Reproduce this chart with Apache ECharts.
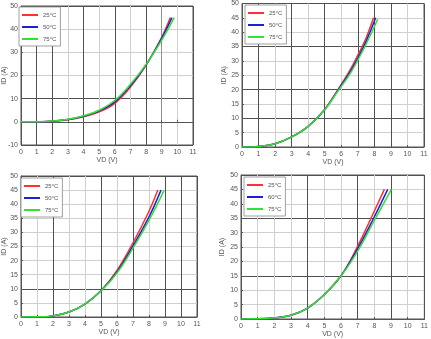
<!DOCTYPE html>
<html><head><meta charset="utf-8">
<script src="https://cdn.jsdelivr.net/npm/echarts@6/dist/echarts.min.js"></script>
<style>html,body{margin:0;padding:0;background:#fff}#c{width:431px;height:339px}</style>
</head><body><div id="c"></div>
<script>
// Tick labels
const xTicks = [0,1,2,3,4,5,6,7,8,9,10,11];
const yTicksA = [-10,0,10,20,30,40,50];
const yTicksB = [0,5,10,15,20,25,30,35,40,45,50];
// Legend names
const names1 = ['25°C','50°C','75°C'];
const names4 = ['25°C','60°C','75°C'];
// Panel 1 (VD, ID)
const p1_25 = [[0,0],[1,0],[2,0.3],[3,0.9],[4,2.2],[5,4.3],[6,8.0],[7,15.0],[8,24.5],[9,36.5],[9.55,45]];
const p1_50 = [[0,0],[1,0],[2,0.3],[3,1.0],[4,2.4],[5,4.7],[6,8.6],[7,15.6],[8,24.6],[9,36],[9.65,45]];
const p1_75 = [[0,0],[1,0.05],[2,0.35],[3,1.1],[4,2.6],[5,5.0],[6,9.2],[7,16.2],[8,24.8],[9,35.3],[9.8,45]];
// Panel 2
const p2_25 = [[0,0],[1,0.2],[2,1.1],[3,3.5],[4,7.2],[5,13.2],[5.8,20],[6.5,26.5],[7,32],[7.5,38],[7.95,45]];
const p2_50 = [[0,0],[1,0.2],[2,1.1],[3,3.5],[4,7.2],[5,13],[5.8,19.8],[6.5,25.8],[7,31],[7.5,36.8],[8.08,45]];
const p2_75 = [[0,0],[1,0.2],[2,1.1],[3,3.5],[4,7.2],[5,13],[5.8,19.5],[6.5,25.2],[7,30.3],[7.5,35.8],[8.2,44.5]];
// Panel 3
const p3_25 = [[0,0],[1,0.05],[2,0.4],[3,1.8],[4,4.6],[5,9.3],[6,16.5],[7,26.3],[8,37.5],[8.55,45]];
const p3_50 = [[0,0],[1,0.05],[2,0.4],[3,1.8],[4,4.6],[5,9.3],[6,16],[7,25.2],[8,35.5],[8.75,45]];
const p3_75 = [[0,0],[1,0.05],[2,0.4],[3,1.8],[4,4.6],[5,9.2],[6,15.6],[7,24.4],[8,34.3],[8.95,45]];
// Panel 4
const p4_25 = [[0,0],[1,0.05],[2,0.4],[3,1.3],[4,3.8],[5,8.5],[6,15],[7,25.3],[8,37.5],[8.6,45]];
const p4_60 = [[0,0],[1,0.05],[2,0.4],[3,1.3],[4,3.8],[5,8.5],[6,15],[7,24.4],[8,35.5],[8.8,45]];
const p4_75 = [[0,0],[1,0.05],[2,0.4],[3,1.3],[4,3.8],[5,8.5],[6,15],[7,23.6],[8,34.2],[9.02,45]];

const D='#505050', L='#d0d0d0', M='#909090';
const colors = ['#ff3030','#1f1fd6','#33e033'];
const grids = [
  {left:16, top:6, width:177, height:139},
  {left:242, top:3, width:182, height:144},
  {left:18, top:176, width:179, height:141},
  {left:241, top:175, width:187, height:146}
];
const yNameGaps = [13, 14, 13, 15];
const xGridColors = [
  [D,D,D,L,D,L,D,L,D,M,L,D],
  [D,D,L,D,L,D,L,D,D,D,L,D],
  [D,L,D,L,L,D,L,D,L,D,D,D],
  [D,L,L,L,D,L,L,D,L,D,L,D]
];
const yGridColors = [
  [D,L,D,L,L,L,D],
  [D,L,D,L,D,L,L,D,L,L,D],
  [D,L,D,L,L,L,L,L,L,L,D],
  [D,L,L,D,L,L,L,D,L,L,D]
];
const lbl = {fontSize:7, color:'#555', fontFamily:'Liberation Sans'};
const xAxis = grids.map((g,i)=>({
  type:'value', gridIndex:i, min:xTicks[0], max:xTicks[xTicks.length-1], interval:1,
  name:'VD (V)', nameLocation:'middle', nameGap:12, nameMoveOverlap:false,
  nameTextStyle:{fontSize:7, color:'#555', fontFamily:'Liberation Sans'},
  axisLine:{lineStyle:{color:'#555', width:1}},
  axisTick:{inside:true, length:2, lineStyle:{color:'#555'}},
  axisLabel:Object.assign({margin:4}, lbl),
  splitLine:{show:true, lineStyle:{color:xGridColors[i], width:1}}
}));
const yAxis = grids.map((g,i)=>{
  const t = i===0 ? yTicksA : yTicksB;
  return {
    type:'value', gridIndex:i, min:t[0], max:t[t.length-1], interval:t[1]-t[0],
    name:'ID (A)', nameLocation:'middle', nameGap:yNameGaps[i], nameRotate:90, nameMoveOverlap:false,
    nameTextStyle:{fontSize:7, color:'#555', fontFamily:'Liberation Sans'},
    axisLine:{lineStyle:{color:'#555', width:1}},
    axisTick:{inside:true, length:2, lineStyle:{color:'#555'}},
    axisLabel:Object.assign({margin:3}, lbl),
    splitLine:{show:true, lineStyle:{color:yGridColors[i], width:1}}
  };
});
const panelData = [[p1_25,p1_50,p1_75],[p2_25,p2_50,p2_75],[p3_25,p3_50,p3_75],[p4_25,p4_60,p4_75]];
const panelNames = [names1,names1,names1,names4];
const series = [];
panelData.forEach((arr,i)=>{
  arr.forEach((d,j)=>{
    series.push({type:'line', name:panelNames[i][j], xAxisIndex:i, yAxisIndex:i, data:d,
      smooth:0.4, symbol:'none', showSymbol:false, z:3+j,
      lineStyle:{color:colors[j], width:1.5}, itemStyle:{color:colors[j]}});
  });
});
const legendPos = [
  {left:19, top:7}, {left:245, top:5}, {left:21, top:178}, {left:244, top:177}
];
const legend = legendPos.map((p,i)=>({
  left:p.left, top:p.top, orient:'vertical', data:panelNames[i],
  icon:'rect', itemWidth:16, itemHeight:2, itemGap:6,
  backgroundColor:'#fff', borderColor:'#888', borderWidth:0.8, padding:[5,4,4,3],
  textStyle:{fontSize:6, color:'#555', fontFamily:'Liberation Sans'}, selectedMode:false
}));
const chart = echarts.init(document.getElementById('c'), null, {renderer:'canvas'});
chart.setOption({
  animation:false, backgroundColor:'#fff',
  grid: grids.map(g=>Object.assign({show:true, borderColor:'#555', borderWidth:1, backgroundColor:'transparent'}, g)),
  xAxis, yAxis, series, legend
});
</script></body></html>
